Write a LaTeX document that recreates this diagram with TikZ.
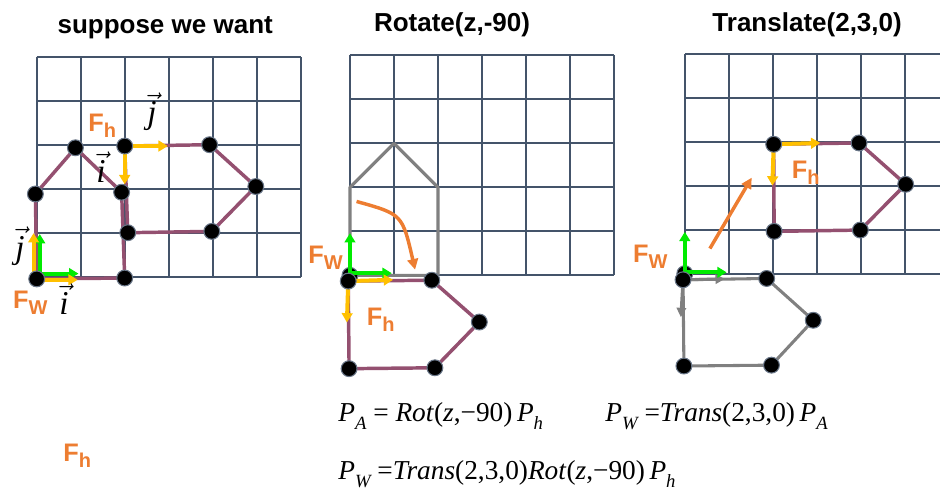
\documentclass[tikz,border=0pt]{standalone}
\usepackage{fontspec}
\setmainfont{Liberation Serif}
\setsansfont{Liberation Sans}
\usetikzlibrary{arrows.meta}

\definecolor{grille}{RGB}{68,84,106}
\definecolor{prune}{RGB}{148,80,112}
\definecolor{jaune}{RGB}{255,192,0}
\definecolor{vertf}{RGB}{0,235,0}
\definecolor{orangef}{RGB}{237,125,49}
\definecolor{grisf}{RGB}{128,128,128}

\tikzset{
  quadrillage/.style={draw=grille, line width=1.5pt, step=33pt},
  contour/.style={draw=prune, line width=2.6pt, line join=round},
  fantome/.style={draw=grisf, line width=2.3pt, line join=round},
  axeW/.style={draw=vertf, line width=3pt, -{Triangle[length=7pt,width=8pt]}},
  axeh/.style={draw=jaune, line width=3pt, -{Triangle[length=7pt,width=8pt]}},
  axeg/.style={draw=grisf, line width=2.3pt, -{Triangle[length=7pt,width=7pt]}},
  mouvement/.style={draw=orangef, line width=2.6pt, -{Triangle[length=8pt,width=8pt]}},
  sommet/.style={fill=black, draw=grille!80, line width=0.8pt},
  titre/.style={font=\sffamily\bfseries\fontsize{19.5}{20}\selectfont, anchor=base, inner sep=0pt},
  repere/.style={text=orangef, font=\sffamily\bfseries\fontsize{19}{20}\selectfont, anchor=base west, inner sep=0pt},
  vecteur/.style={font=\fontsize{25}{26}\selectfont, inner sep=0pt},
  equation/.style={font=\fontsize{20.5}{22}\selectfont, anchor=base west, inner sep=0pt},
}

% repere F avec indice abaisse
\newcommand{\Fr}[1]{F\raisebox{-4.5pt}{\fontsize{15}{15}\selectfont #1}}
% indice des equations
\newcommand{\ind}[1]{\raisebox{-5.5pt}{\fontsize{14}{14}\selectfont\itshape #1}}

\begin{document}
\begin{tikzpicture}[x=33pt, y=33pt]
  \useasboundingbox (-0.834,-5.03) rectangle (20.53,6.289);

  % Titres
  \node[titre] (t1) at (2.92,5.53) {suppose we want};
  \node[titre] (t2) at (9.44,5.58) {Rotate(z,-90)};
  \node[titre] (t3) at (17.51,5.58) {Translate(2,3,0)};

  % ---------- Panneau 1 : ce qu'on veut ----------
  \draw[quadrillage] (0,0) grid (6,5);

  % Maison (repere W)
  \coordinate (H0) at (0,-0.05);
  \coordinate (H1) at (2,-0.03);
  \coordinate (H2) at (1.93,1.92);
  \coordinate (H3) at (0.88,2.93);
  \coordinate (H4) at (-0.03,1.88);
  % Hexagone (repere h)
  \coordinate (K0) at (2,2.97);
  \coordinate (K1) at (3.93,3.0);
  \coordinate (K2) at (4.98,2.05);
  \coordinate (K3) at (3.98,1.03);
  \coordinate (K4) at (2.07,1.0);

  \draw[contour] (H0) -- (H1) -- (H2) -- (H3) -- (H4) -- cycle;
  \draw[contour] (K0) -- (K1) -- (K2) -- (K3) -- (K4) -- (K0);

  % Axes de F_W et F_h
  \coordinate (W1) at (0.07,0.07);
  \coordinate (W1y) at (0.07,0.97);
  \coordinate (W1x) at (0.95,0.07);
  \coordinate (h1) at (-0.07,-0.07);
  \coordinate (h1y) at (-0.07,0.99);
  \coordinate (h1x) at (0.93,-0.07);
  \coordinate (K0x) at (2.98,2.97);
  \coordinate (K0y) at (2.0,2.1);
  \draw[axeW] (W1) -- (W1y);
  \draw[axeW] (W1) -- (W1x);
  \draw[axeh] (h1) -- (h1y);
  \draw[axeh] (h1) -- (h1x);
  \draw[axeh] (K0) -- (K0x);
  \draw[axeh] (K0) -- (K0y);

  \foreach \p in {H0,H1,H2,H3,H4,K0,K1,K2,K3,K4}
    \filldraw[sommet] (\p) circle (0.18);

  \node[repere] (Fh1) at (1.17,3.29) {\Fr{h}};
  \node[repere] (FW1) at (-0.54,-0.73) {\Fr{W}};
  \node[vecteur] (vj1) at (2.62,3.75) {$\vec{\textit{j}}$};
  \node[vecteur] (vi1) at (1.46,2.49) {$\vec{\textit{i}}$};
  \node[vecteur] (vj0) at (-0.38,0.7) {$\vec{\textit{j}}$};
  \node[vecteur] (vi0) at (0.62,-0.51) {$\vec{\textit{i}}$};

  % ---------- Panneau 2 : rotation ----------
  \begin{scope}[shift={(7.12,0.03)}]
    \draw[quadrillage] (0,0) grid (6,5);
    \coordinate (M0) at (0,0);
    \coordinate (M1) at (2,0);
    \coordinate (M2) at (2,2);
    \coordinate (M3) at (1,3);
    \coordinate (M4) at (0,2);
    \draw[fantome] (M0) -- (M1) -- (M2) -- (M3) -- (M4) -- cycle;

    \coordinate (R0) at (-0.04,-0.13);
    \coordinate (R1) at (1.86,-0.11);
    \coordinate (R2) at (2.94,-1.06);
    \coordinate (R3) at (1.93,-2.1);
    \coordinate (R4) at (-0.02,-2.12);
    \draw[contour] (R0) -- (R1) -- (R2) -- (R3) -- (R4) -- cycle;

    \filldraw[sommet] (M0) circle (0.18);
    \coordinate (W2y) at (0,0.96);
    \coordinate (W2o) at (0,0.05);
    \coordinate (W2x) at (0.95,0.05);
    \coordinate (R0x) at (0.98,-0.1);
    \coordinate (R0y) at (-0.07,-1.07);
    \draw[axeW] (M0) -- (W2y);
    \draw[axeW] (W2o) -- (W2x);
    \draw[axeh] (R0) -- (R0x);
    \draw[axeh] (R0) -- (R0y);

    % rotation de -90
    \coordinate (C0) at (0.15,1.68);
    \coordinate (C1) at (1.48,0.13);
    \draw[mouvement] (C0) .. controls (1.19,1.39) .. (C1);

    \foreach \p in {R0,R1,R2,R3,R4}
      \filldraw[sommet] (\p) circle (0.18);

    \node[repere] (FW2) at (-0.95,0.27) {\Fr{W}};
    \node[repere] (Fh2) at (0.38,-1.14) {\Fr{h}};
  \end{scope}

  % ---------- Panneau 3 : translation ----------
  \begin{scope}[shift={(14.73,0.07)}]
    \begin{scope}
      \clip (-0.1,-0.1) rectangle (5.8,5.1);
      \draw[quadrillage] (0,0) grid (6,5);
    \end{scope}

    \coordinate (T0) at (2.02,2.94);
    \coordinate (T1) at (3.96,2.97);
    \coordinate (T2) at (5.02,2.03);
    \coordinate (T3) at (3.99,0.99);
    \coordinate (T4) at (2.03,0.96);
    \draw[contour] (T0) -- (T1) -- (T2) -- (T3) -- (T4) -- (T0);

    \coordinate (G0) at (-0.04,-0.14);
    \coordinate (G1) at (1.86,-0.11);
    \coordinate (G2) at (2.92,-1.06);
    \coordinate (G3) at (1.97,-2.08);
    \coordinate (G4) at (-0.02,-2.1);
    \draw[fantome] (G0) -- (G1) -- (G2) -- (G3) -- (G4) -- cycle;
    \coordinate (G0x) at (0.91,-0.12);
    \coordinate (G0y) at (-0.09,-0.99);
    \draw[axeg] (G0) -- (G0x);
    \draw[axeg] (G0) -- (G0y);

    \coordinate (N0) at (0,0);
    \filldraw[sommet] (N0) circle (0.18);
    \coordinate (W3y) at (0,0.95);
    \coordinate (W3o) at (0,0.03);
    \coordinate (W3x) at (0.95,0.03);
    \draw[axeW] (N0) -- (W3y);
    \draw[axeW] (W3o) -- (W3x);

    \coordinate (T0x) at (3.08,2.97);
    \coordinate (T0y) at (1.99,2.0);
    \draw[axeh] (T0) -- (T0x);
    \draw[axeh] (T0) -- (T0y);

    % translation (2,3,0)
    \coordinate (D0) at (0.57,0.57);
    \coordinate (D1) at (1.52,2.18);
    \draw[mouvement] (D0) -- (D1);

    \foreach \p in {T0,T1,T2,T3,T4,G0,G1,G2,G3,G4}
      \filldraw[sommet] (\p) circle (0.18);

    \node[repere] (FW3) at (-1.18,0.26) {\Fr{W}};
    \node[repere] (Fh3) at (2.43,2.16) {\Fr{h}};
  \end{scope}

  % Repere isole
  \node[repere] (Fh0) at (0.6,-4.21) {\Fr{h}};

  % Equations
  \node[equation] (e1) at (6.85,-3.30)
    {\textit{P}\ind{A} = \textit{Rot}(\textit{z},−90)\,\textit{P}\ind{h}};
  \node[equation] (e2) at (12.92,-3.30)
    {\textit{P}\ind{W} =\textit{Trans}(2,3,0)\,\textit{P}\ind{A}};
  \node[equation] (e3) at (6.85,-4.62)
    {\textit{P}\ind{W} =\textit{Trans}(2,3,0)\textit{Rot}(\textit{z},−90)\,\textit{P}\ind{h}};
\end{tikzpicture}
\end{document}
